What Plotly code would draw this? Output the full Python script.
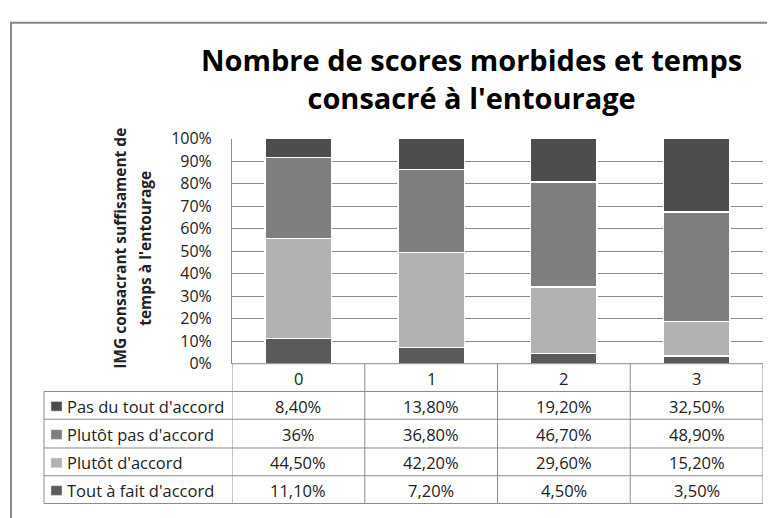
import plotly.graph_objects as go

# ---- data ----
categories = ["0", "1", "2", "3"]
series_names = ["Pas du tout d'accord", "Plutôt pas d'accord", "Plutôt d'accord", "Tout à fait d'accord"]
pas_du_tout = [8.4, 13.8, 19.2, 32.5]
plutot_pas = [36.0, 36.8, 46.7, 48.9]
plutot = [44.5, 42.2, 29.6, 15.2]
tout_a_fait = [11.1, 7.2, 4.5, 3.5]
y_ticks = [0, 10, 20, 30, 40, 50, 60, 70, 80, 90, 100]

series_values = [pas_du_tout, plutot_pas, plutot, tout_a_fait]
colors = ["#4d4d4d", "#7f7f7f", "#b2b2b2", "#5a5a5a"]

W, H = 775, 518
OFF = 8  # page body margin
FONT = "Open Sans"
FS = 16.5

def px(x):
    return (x - OFF) / W

def py(y):
    return 1 - (y - OFF) / H

def fmt(v):
    if abs(v - round(v)) < 1e-9:
        return f"{int(round(v))}%"
    return f"{v:.2f}".replace(".", ",") + "%"

fig = go.Figure()
# stacked bottom -> top
for name, vals, col in reversed(list(zip(series_names, series_values, colors))):
    fig.add_trace(go.Bar(
        x=categories, y=vals, name=name,
        marker=dict(color=col, line=dict(color="white", width=1.5)),
        width=0.5, showlegend=False,
    ))

plot_l, plot_r, plot_t, plot_b = 232, 763, 133, 368

fig.update_layout(
    width=W, height=H, autosize=False,
    margin=dict(l=0, r=0, t=0, b=0),
    paper_bgcolor="white", plot_bgcolor="white",
    barmode="stack", barnorm="percent",
    font=dict(family=FONT, size=FS, color="#222"),
    xaxis=dict(domain=[px(plot_l), px(plot_r)], type="category",
               range=[-0.5, 3.5], showticklabels=False, showgrid=False,
               zeroline=False, showline=False),
    yaxis=dict(domain=[py(plot_b), py(plot_t)], range=[0, 100],
               tickvals=y_ticks, ticktext=[f"{t}%" for t in y_ticks],
               showgrid=True, gridcolor="#8c8c8c", gridwidth=1,
               zeroline=False, showline=True, linecolor="#8c8c8c", linewidth=1,
               ticks="", ticklabelstandoff=16,
               tickfont=dict(family=FONT, size=16, color="#222")),
)

shapes = []
line_col = "#8c8c8c"
# outer chart frame
shapes.append(dict(type="rect", xref="paper", yref="paper",
                   x0=px(11), x1=px(W + 30), y0=py(H + 30), y1=py(12),
                   line=dict(color="#888888", width=2)))
# table horizontal lines
row_lines = [plot_b, 397, 426, 456, 485, 514]
for i, yy in enumerate(row_lines):
    x0 = plot_l if i == 0 else 44
    shapes.append(dict(type="line", xref="paper", yref="paper",
                       x0=px(x0), x1=px(plot_r), y0=py(yy), y1=py(yy),
                       line=dict(color=line_col, width=1)))
# table vertical lines
shapes.append(dict(type="line", xref="paper", yref="paper",
                   x0=px(44), x1=px(44), y0=py(397), y1=py(514),
                   line=dict(color=line_col, width=1)))
for k in range(len(categories) + 1):
    xv = k - 0.5
    shapes.append(dict(type="line", xref="x", yref="paper",
                       x0=xv, x1=xv, y0=py(plot_b), y1=py(514),
                       line=dict(color=line_col, width=1)))

annotations = []
# header row categories
for c in categories:
    annotations.append(dict(x=c, y=py((plot_b + 397) / 2 + 1), xref="x", yref="paper",
                            text=c, showarrow=False, xanchor="center", yanchor="middle",
                            font=dict(family=FONT, size=FS, color="#222")))
# table rows
for r, (name, vals, col) in enumerate(zip(series_names, series_values, colors)):
    yc = (row_lines[r + 1] + row_lines[r + 2]) / 2 + 1
    shapes.append(dict(type="rect", xref="paper", yref="paper",
                       x0=px(51), x1=px(62), y0=py(yc + 5), y1=py(yc - 5),
                       fillcolor=col, line=dict(color="#dddddd", width=0.5)))
    annotations.append(dict(x=px(65), y=py(yc), xref="paper", yref="paper",
                            text=name, showarrow=False, xanchor="left", yanchor="middle",
                            font=dict(family=FONT, size=FS, color="#222")))
    for c, v in zip(categories, vals):
        annotations.append(dict(x=c, y=py(yc), xref="x", yref="paper",
                                text=fmt(v), showarrow=False, xanchor="center", yanchor="middle",
                                font=dict(family=FONT, size=FS, color="#222")))

# title
annotations.append(dict(x=px(471), y=py(70), xref="paper", yref="paper",
                        text="<b>Nombre de scores morbides et temps<br>consacré à l'entourage</b>",
                        showarrow=False, xanchor="center", yanchor="middle",
                        font=dict(family=FONT, size=29, color="black")))
# y-axis title (two rotated lines)
for txt, xc in [("IMG consacrant suffisament de", 120), ("temps à l'entourage", 145)]:
    annotations.append(dict(x=px(xc), y=py(248), xref="paper", yref="paper",
                            text=f"<b>{txt}</b>",
                            showarrow=False, textangle=-90, xanchor="center", yanchor="middle",
                            font=dict(family=FONT, size=15.5, color="#222")))

fig.update_layout(shapes=shapes, annotations=annotations)
fig.write_html("out.html")
